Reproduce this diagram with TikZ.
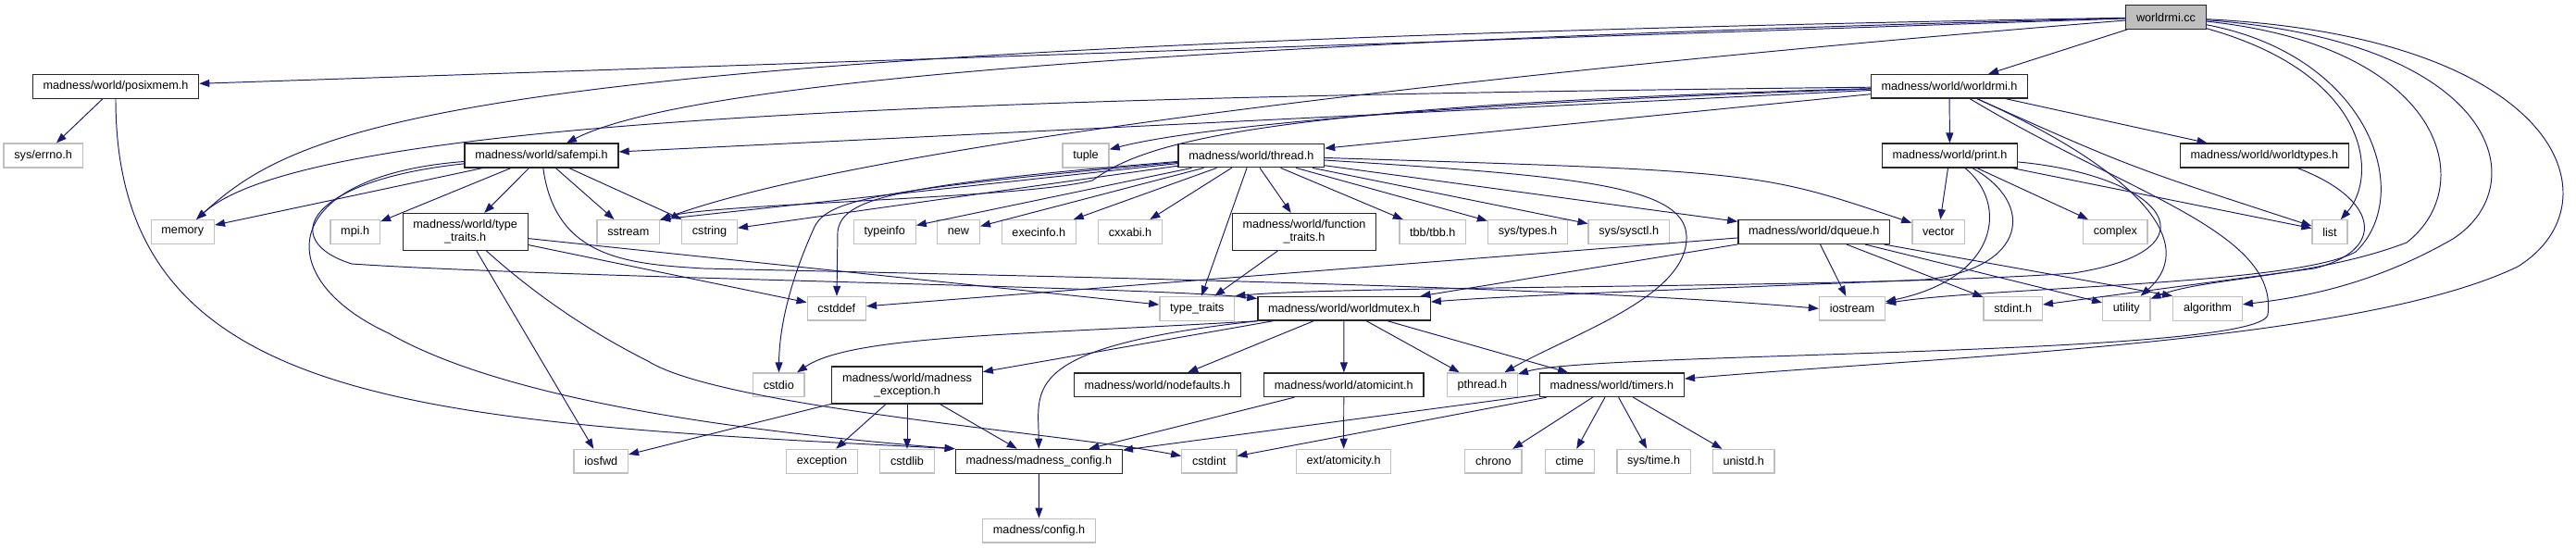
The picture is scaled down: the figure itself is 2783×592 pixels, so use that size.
\documentclass[tikz,border=0pt]{standalone}
\usepackage{fontspec}
\setmainfont{Liberation Sans}
\usetikzlibrary{arrows.meta}
\definecolor{edgeblue}{HTML}{191970}
\definecolor{boxgray}{HTML}{BFBFBF}

\begin{document}
\begin{tikzpicture}[x=0.2mm,y=-0.2mm,>={Triangle[length=2.2mm,width=1.6mm]},
  font=\fontsize{7.2}{8}\selectfont,line cap=round,
  hdr/.style={draw=black!85,line width=0.75pt,fill=white,inner xsep=2.25mm,inner ysep=4pt,minimum height=5.12mm},
  sys/.style={hdr,draw=boxgray},
  root/.style={hdr,fill=boxgray},
  dep/.style={->,draw=edgeblue,line width=0.55pt}]
\useasboundingbox (0,0) rectangle (2783,592);
% rank 0 and 1
\node[root] (rmicc) at (2340,18.5) {worldrmi.cc};
\node[hdr] (posixmem) at (125,93.3) {madness/world/posixmem.h};
\node[hdr] (rmih) at (2106,93.3) {madness/world/worldrmi.h};
% rank 2
\node[sys] (errno) at (46.7,168) {sys/errno.h};
\node[hdr] (safempi) at (585,168) {madness/world/safempi.h};
\node[sys] (tuple) at (1173,168) {tuple};
\node[hdr] (thread) at (1351.8,168) {madness/world/thread.h};
\node[hdr] (print) at (2106.5,168) {madness/world/print.h};
\node[hdr] (wtypes) at (2446.4,168) {madness/world/worldtypes.h};
% rank 3
\node[sys] (memory) at (197.3,250.5) {memory};
\node[sys] (mpi) at (383.7,250.5) {mpi.h};
\node[hdr,align=center] (mtraits) at (502.7,250.5) {madness/world/type\\\_traits.h};
\node[sys] (sstream) at (678.8,250.5) {sstream};
\node[sys] (cstring) at (766.5,250.5) {cstring};
\node[sys] (typeinfo) at (955.8,250.5) {typeinfo};
\node[sys] (newh) at (1035.5,250.5) {new};
\node[sys] (execinfo) at (1122.3,250.5) {execinfo.h};
\node[sys] (cxxabi) at (1221,250.5) {cxxabi.h};
\node[hdr,align=center] (ftraits) at (1409,250.5) {madness/world/function\\\_traits.h};
\node[sys] (tbb) at (1547.8,250.5) {tbb/tbb.h};
\node[sys] (systypes) at (1650.4,250.5) {sys/types.h};
\node[sys] (sysctl) at (1759.7,250.5) {sys/sysctl.h};
\node[hdr] (dqueue) at (1959.8,250.5) {madness/world/dqueue.h};
\node[sys] (vector) at (2094.3,250.5) {vector};
\node[sys] (complex) at (2285.3,250.5) {complex};
\node[sys] (list) at (2517,250.5) {list};
% rank 4
\node[sys] (cstddef) at (903.8,333.3) {cstddef};
\node[sys] (typetraits) at (1293.3,333.3) {type\_traits};
\node[hdr] (mutex) at (1452,333.3) {madness/world/worldmutex.h};
\node[sys] (iostream) at (2001,333.3) {iostream};
\node[sys] (stdint) at (2174.7,333.3) {stdint.h};
\node[sys] (utility) at (2297.3,333.3) {utility};
\node[sys] (algorithm) at (2385,333.3) {algorithm};
% rank 5
\node[sys] (cstdio) at (841.3,415.8) {cstdio};
\node[hdr,align=center] (mexcept) at (980,416) {madness/world/madness\\\_exception.h};
\node[hdr] (nodefaults) at (1250.3,415.8) {madness/world/nodefaults.h};
\node[hdr] (atomicint) at (1451.8,415.8) {madness/world/atomicint.h};
\node[sys] (pthread) at (1601.3,415.8) {pthread.h};
\node[hdr] (timers) at (1741.3,415.8) {madness/world/timers.h};
% rank 6 and 7
\node[sys] (iosfwd) at (649.3,498.3) {iosfwd};
\node[sys] (exception) at (888,498.3) {exception};
\node[sys] (cstdlib) at (980,498.3) {cstdlib};
\node[hdr] (mconfig) at (1122.3,498.3) {madness/madness\_config.h};
\node[sys] (cstdint) at (1306.3,498.3) {cstdint};
\node[sys] (atomicity) at (1451.6,498.3) {ext/atomicity.h};
\node[sys] (chrono) at (1613.4,498.3) {chrono};
\node[sys] (ctime) at (1695.8,498.3) {ctime};
\node[sys] (systime) at (1786.6,498.3) {sys/time.h};
\node[sys] (unistd) at (1883.7,498.3) {unistd.h};
\node[sys] (config) at (1122.5,573.2) {madness/config.h};

% worldrmi.cc
\draw[dep] (rmicc) -- (posixmem);
\draw[dep] (rmicc) -- (rmih);
\draw[dep] (rmicc) .. controls (500,50) and (330,130) .. (memory);
\draw[dep] (rmicc) .. controls (1100,50) and (720,100) .. (safempi);
\draw[dep] (rmicc) .. controls (1700,70) and (950,150) .. (sstream);
\draw[dep] (rmicc) .. controls (2560,80) and (2570,190) .. (list);
\draw[dep] (rmicc) .. controls (2560,60) and (2610,210) .. (2545,272) .. controls (2480,308) and (2150,310) .. (iostream);
\draw[dep] (rmicc) .. controls (2640,50) and (2680,200) .. (2600,262) .. controls (2500,300) and (2380,300) .. (utility);
\draw[dep] (rmicc) .. controls (2700,45) and (2740,200) .. (2650,258) .. controls (2560,310) and (2480,322) .. (algorithm);
\draw[dep] (rmicc) .. controls (2770,40) and (2830,220) .. (2720,288) .. controls (2550,370) and (2100,385) .. (timers);
% posixmem.h
\draw[dep] (posixmem) -- (errno);
\draw[dep] (posixmem) .. controls (125,440) and (450,455) .. (mconfig.north west);
% worldrmi.h
\draw[dep] (rmih) -- (safempi);
\draw[dep] (rmih) .. controls (1000,105) and (330,130) .. (memory);
\draw[dep] (rmih) .. controls (1320,115) and (1230,160) .. (1180,195) .. controls (1100,215) and (760,220) .. (sstream);
\draw[dep] (rmih) .. controls (1600,110) and (1300,135) .. (tuple);
\draw[dep] (rmih) -- (thread);
\draw[dep] (rmih) -- (print);
\draw[dep] (rmih) -- (wtypes);
\draw[dep] (rmih) .. controls (2300,180) .. (list);
\draw[dep] (rmih) .. controls (2300,180) and (2380,260) .. (utility);
\draw[dep] (rmih) .. controls (2300,210) and (2462,250) .. (2450,340) .. controls (2440,385) and (1720,380) .. (pthread);
% safempi.h
\draw[dep] (safempi) -- (memory);
\draw[dep] (safempi) -- (mpi);
\draw[dep] (safempi) -- (mtraits);
\draw[dep] (safempi) -- (sstream);
\draw[dep] (safempi) -- (cstring);
\draw[dep] (safempi) .. controls (600,280) and (680,285) .. (760,290) .. controls (1200,300) and (1700,310) .. (iostream.west);
\draw[dep] (safempi) .. controls (330,195) and (300,260) .. (380,285) .. controls (600,300) and (1250,310) .. (mutex);
\draw[dep] (safempi) .. controls (300,190) and (290,300) .. (420,360) .. controls (560,440) and (850,470) .. (mconfig.north west);
% type_traits.h
\draw[dep] (mtraits) -- (iosfwd);
\draw[dep] (mtraits) -- (cstddef);
\draw[dep] (mtraits) -- (typetraits);
\draw[dep] (mtraits) .. controls (580,320) and (640,360) .. (700,390) .. controls (780,440) and (1150,468) .. (cstdint);
% thread.h
\draw[dep] (thread) -- (sstream.north east);
\draw[dep] (thread) -- (cstring);
\draw[dep] (thread) -- (typeinfo);
\draw[dep] (thread) -- (newh);
\draw[dep] (thread) -- (execinfo);
\draw[dep] (thread) -- (cxxabi);
\draw[dep] (thread) -- (ftraits);
\draw[dep] (thread) -- (typetraits);
\draw[dep] (thread) .. controls (960,200) and (910,215) .. (905,250) -- (cstddef);
\draw[dep] (thread) .. controls (950,205) and (895,215) .. (880,245) .. controls (855,300) and (842,350) .. (cstdio);
\draw[dep] (thread) -- (tbb);
\draw[dep] (thread) -- (systypes);
\draw[dep] (thread) -- (sysctl);
\draw[dep] (thread) -- (dqueue);
\draw[dep] (thread) .. controls (1900,185) .. (vector);
\draw[dep] (thread) .. controls (1700,190) and (1820,200) .. (1822,255) .. controls (1824,320) and (1700,360) .. (pthread);
% print.h
\draw[dep] (print) -- (vector);
\draw[dep] (print) -- (complex);
\draw[dep] (print) -- (list);
\draw[dep] (print) .. controls (2170,220) and (2160,300) .. (iostream);
\draw[dep] (print) .. controls (2200,220) and (2190,290) .. (2080,302) .. controls (1900,310) and (1650,318) .. (mutex);
\draw[dep] (print) .. controls (2340,190) and (2400,270) .. (2240,295) .. controls (2000,312) and (1460,308) .. (typetraits.north east);
% worldtypes.h
\draw[dep] (wtypes) .. controls (2570,215) and (2580,270) .. (2500,290) -- (stdint);
% dqueue.h
\draw[dep] (dqueue) -- (cstddef);
\draw[dep] (dqueue) -- (mutex);
\draw[dep] (dqueue) -- (iostream);
\draw[dep] (dqueue) -- (stdint);
\draw[dep] (dqueue) -- (utility);
\draw[dep] (dqueue) -- (algorithm.north west);
% worldmutex.h
\draw[dep] (mutex.south west) .. controls (1100,362) and (920,362) .. (cstdio);
\draw[dep] (mutex) -- (mexcept);
\draw[dep] (mutex.south west) .. controls (1100,375) and (1122,420) .. (mconfig);
\draw[dep] (mutex) -- (nodefaults);
\draw[dep] (mutex) -- (atomicint);
\draw[dep] (mutex) -- (pthread);
\draw[dep] (mutex) -- (timers);
% timers.h
\draw[dep] (timers) -- (mconfig);
\draw[dep] (timers) -- (cstdint);
\draw[dep] (timers) -- (chrono);
\draw[dep] (timers) -- (ctime);
\draw[dep] (timers) -- (systime);
\draw[dep] (timers) -- (unistd);
% the rest
\draw[dep] (atomicint) -- (mconfig);
\draw[dep] (atomicint) -- (atomicity);
\draw[dep] (mexcept) -- (iosfwd);
\draw[dep] (mexcept) -- (exception);
\draw[dep] (mexcept) -- (cstdlib);
\draw[dep] (mexcept) -- (mconfig);
\draw[dep] (ftraits) -- (typetraits);
\draw[dep] (mconfig) -- (config);
\end{tikzpicture}
\end{document}
